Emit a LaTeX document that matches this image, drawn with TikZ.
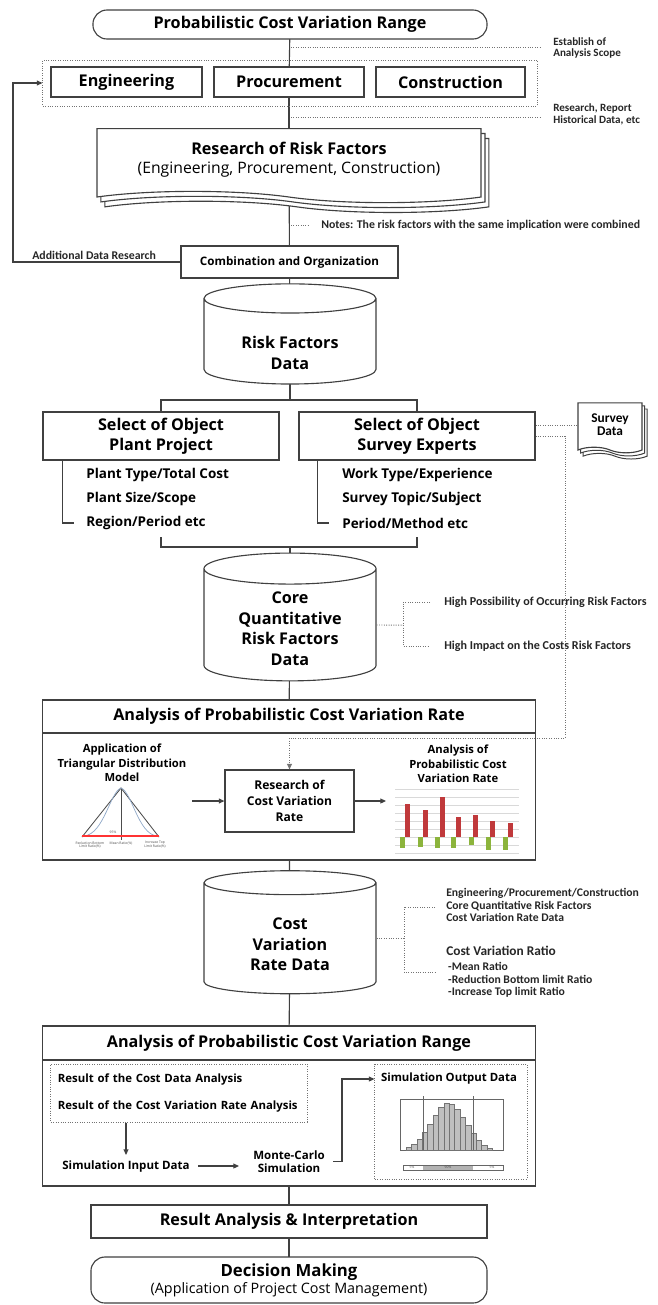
\documentclass[tikz,border=0pt]{standalone}
\usepackage{fontspec}
\setmainfont{Open Sans}
\newfontfamily\notefont{Carlito}
\usetikzlibrary{shapes.geometric}
\usetikzlibrary{shapes.symbols}
\usetikzlibrary{shadows}
\usetikzlibrary{backgrounds}
\usetikzlibrary{calc}
\usetikzlibrary{arrows.meta}
\definecolor{barred}{HTML}{C0393B}
\definecolor{bargreen}{HTML}{8CB43C}
\definecolor{curveblue}{HTML}{8FA8C8}
\tikzset{
    box/.style = {rectangle, draw=black!75, line width=0.8pt, fill=white, inner sep=0pt, align=center, font=\bfseries\fontsize{11.5}{13}\selectfont},
    rbox/.style = {box, rounded corners=10pt},
    dashbox/.style = {rectangle, draw=black!55, densely dotted, line width=0.7pt, inner sep=0pt},
    dbase/.style = {cylinder, shape border rotate=90, draw=black!75, line width=0.8pt, fill=white, aspect=0.3, inner sep=0pt, align=center, font=\bfseries\fontsize{11.5}{14.6}\selectfont},
    docbase/.style = {tape, tape bend top=none, tape bend bottom=out and in, draw=black!75, line width=0.8pt, fill=white, inner sep=0pt, align=center},
    docs/.style = {docbase, tape bend height=8pt,
        copy shadow={shadow xshift=5.6pt, shadow yshift=-7pt, draw=black!75, line width=0.8pt},
        copy shadow={shadow xshift=2.8pt, shadow yshift=-3.5pt, draw=black!75, line width=0.8pt}},
    sdocs/.style = {docbase, tape bend height=4pt,
        copy shadow={shadow xshift=3.6pt, shadow yshift=-4.4pt, draw=black!75, line width=0.7pt},
        copy shadow={shadow xshift=1.8pt, shadow yshift=-2.2pt, draw=black!75, line width=0.7pt}},
    item/.style = {anchor=west, inner sep=0pt, font=\bfseries\fontsize{9.6}{11}\selectfont},
    note/.style = {anchor=west, inner sep=0pt, align=left, text=black!85, font=\notefont\bfseries\fontsize{8.4}{9}\selectfont},
    small/.style = {inner sep=0pt, align=center, font=\bfseries\fontsize{8}{10.3}\selectfont},
    tiny/.style = {inner sep=0pt, align=center, text=black!70, font=\fontsize{2.4}{2.8}\selectfont},
    line/.style = {draw=black!75, line width=0.8pt},
    arrow/.style = {line, -{Triangle[length=4pt,width=3.5pt]}},
    dotline/.style = {draw=black!55, densely dotted, line width=0.7pt},
    dotarrow/.style = {dotline, -{Triangle[length=4pt,width=3.5pt]}},
    gap/.style = {draw=white, line width=2pt},
}

\begin{document}
\begin{tikzpicture}[x=0.025cm, y=-0.025cm]
\useasboundingbox (0,0) rectangle (658,1305);
% scope of the analysis
\node[rbox, minimum width=9.85cm, minimum height=0.725cm] at (290,24.5) (title) {Probabilistic Cost Variation Range};
\node[dashbox, minimum width=12.35cm, minimum height=1.15cm] at (290,83) (scope) {};
\node[box, minimum width=3.775cm, minimum height=0.75cm] at (126.5,82) (eng) {Engineering};
\node[box, minimum width=3.75cm, minimum height=0.75cm] at (289,82) (proc) {Procurement};
\node[box, minimum width=3.725cm, minimum height=0.75cm] at (450.5,82) (cons) {Construction};
\node[note, font=\notefont\bfseries\fontsize{7.9}{8}\selectfont] at (553,48) (est) {Establish of\\Analysis Scope};
\node[note, font=\notefont\bfseries\fontsize{7.9}{9}\selectfont] at (553,114.5) (hist) {Research, Report\\Historical Data, etc};
\coordinate (s1) at (291,47);
\coordinate (s2) at (291,117);
%
\node[docs, minimum width=9.6cm, minimum height=1.85cm, font=\fontsize{11.2}{13.5}\selectfont] at (289,160) (research) {{\bfseries\fontsize{11.5}{13.5}\selectfont Research of Risk Factors}\\(Engineering, Procurement, Construction)};
\node[note] at (321,225) (notes) {Notes: The risk factors with the same implication were combined};
\coordinate (nt) at (291,225);
\node[box, minimum width=5.425cm, minimum height=0.8cm, font=\bfseries\fontsize{8.3}{10}\selectfont] at (289.5,262) (combo) {Combination and Organization};
\node[note] at (32,255) (adddata) {Additional Data Research};
\coordinate (fb) at (13,83);
% risk factor data
\node[dbase, minimum width=4.3cm, minimum height=2.325cm] at (290,341.5) (riskdata) {\rule{0pt}{25pt}Risk Factors\\Data};
\coordinate (rj) at (290,400);
\node[box, minimum width=5.9cm, minimum height=1.2cm, font=\bfseries\fontsize{11.5}{14.2}\selectfont] at (161,436) (plant) {Select of Object\\Plant Project};
\node[box, minimum width=5.9cm, minimum height=1.2cm, font=\bfseries\fontsize{11.5}{14.2}\selectfont] at (417,436) (expert) {Select of Object\\Survey Experts};
\node[item] at (86,475) (p1) {Plant Type/Total Cost};
\node[item] at (86,499) (p2) {Plant Size/Scope};
\node[item] at (86,523) (p3) {Region/Period etc};
\node[item] at (342,475) (e1) {Work Type/Experience};
\node[item] at (342,499) (e2) {Survey Topic/Subject};
\node[item] at (342,523) (e3) {Period/Method etc};
\coordinate (br) at (290,547);
\node[sdocs, minimum width=1.6cm, minimum height=1.25cm, font=\notefont\bfseries\fontsize{9.5}{9.3}\selectfont] at (610,425) (survey) {Survey\\Data};
% core data
\node[dbase, minimum width=4.3cm, minimum height=3.1cm] at (290,625) (core) {\rule{0pt}{13.5pt}Core\\Quantitative\\Risk Factors\\Data};
\draw[gap] ($(core.center)+(0,-49.1)$) ++(38:86 and 12.9) arc[start angle=38, end angle=142, x radius=86, y radius=12.9];
\node[note, font=\notefont\bfseries\fontsize{8.6}{9}\selectfont] at (444,602) (hp) {High Possibility of Occurring Risk Factors};
\node[note, font=\notefont\bfseries\fontsize{8.6}{9}\selectfont] at (444,646) (hi) {High Impact on the Costs Risk Factors};
\coordinate (cj) at (403,625);
% variation rate
\node[box, minimum width=12.3cm, minimum height=0.825cm] at (289,716.5) (ratehd) {Analysis of Probabilistic Cost Variation Rate};
\node[box, minimum width=12.3cm, minimum height=3.175cm] at (289,796.5) (ratebd) {};
\node[small] at (122,763) (tri) {Application of\\Triangular Distribution\\Model};
\node[box, minimum width=3.225cm, minimum height=1.55cm, font=\bfseries\fontsize{8.6}{11.4}\selectfont] at (289.5,801) (rate) {Research of\\Cost Variation\\Rate};
\node[small] at (458,764) (chart) {Analysis of\\Probabilistic Cost\\Variation Rate};
\coordinate (ti) at (192,801);
\coordinate (co) at (386,801);
% triangular model
\draw[black!70, line width=0.6pt] (82,837) -- (121,788) -- (159,837);
\draw[black!70, line width=0.6pt] (121,788) -- (121,840);
\draw[curveblue, line width=0.5pt] (84,836) .. controls (104,834) and (110,792) .. (121,788);
\draw[curveblue, line width=0.5pt] (121,788) .. controls (132,792) and (138,834) .. (157,836);
\draw[red!80, line width=0.8pt] (82,836) -- (159,836);
\node[tiny] at (113,832) (pct) {95\%};
\node[tiny] at (90,845) (tl) {Reduction Bottom\\Limit Ratio(\%)};
\node[tiny] at (121,843.5) (tm) {Mean Ratio(\%)};
\node[tiny] at (155,845) (tr) {Increase Top\\Limit Ratio(\%)};
% rate chart
\foreach \k in {0,...,8}
    \draw[black!15, line width=0.3pt] (395,{789+8*\k}) -- (519,{789+8*\k});
\foreach \x/\t in {407/804, 425/810, 442/797, 458/817, 475/815, 492/821, 510/823}
    \fill[barred] (\x-2.5,837) rectangle (\x+2.5,\t);
\foreach \x/\b in {402/848, 420/847, 437/848, 453/848, 471/845, 488/850, 505/850}
    \fill[bargreen] (\x-2.5,837) rectangle (\x+2.5,\b);
% cost variation rate data
\node[dbase, minimum width=4.3cm, minimum height=3.075cm] at (290,938.5) (costdata) {\rule{0pt}{17pt}Cost\\Variation\\Rate Data};
\draw[gap] ($(costdata.center)+(0,-48.6)$) ++(38:86 and 12.9) arc[start angle=38, end angle=142, x radius=86, y radius=12.9];
\node[note, font=\notefont\bfseries\fontsize{8.3}{8.6}\selectfont] at (446,905) (cd1) {Engineering/Procurement/Construction\\Core Quantitative Risk Factors\\Cost Variation Rate Data};
\node[note, font=\notefont\bfseries\fontsize{8.3}{8.9}\selectfont] at (446,972) (cd2) {{\fontsize{9.5}{10}\selectfont Cost Variation Ratio}\\[1.5pt]\,-Mean Ratio\\\,-Reduction Bottom limit Ratio\\\,-Increase Top limit Ratio};
\coordinate (dj) at (404,938);
% variation range
\node[box, minimum width=12.3cm, minimum height=0.85cm] at (289,1043) (rangehd) {Analysis of Probabilistic Cost Variation Range};
\node[box, minimum width=12.3cm, minimum height=3.15cm] at (289,1123) (rangebd) {};
\node[dashbox, minimum width=6.4cm, minimum height=1.45cm, align=left, text width=6.05cm, font=\bfseries\fontsize{8.1}{19.2}\selectfont] at (179,1093) (input) {Result of the Cost Data Analysis\\Result of the Cost Variation Rate Analysis};
\node[small, font=\bfseries\fontsize{8.2}{9}\selectfont] at (126,1166) (simin) {Simulation Input Data};
\node[small, font=\bfseries\fontsize{8.2}{9.3}\selectfont] at (289,1161.5) (mc) {Monte-Carlo\\Simulation};
\node[dashbox, minimum width=3.8cm, minimum height=2.875cm] at (451,1121.5) (output) {};
\node[small, font=\bfseries\fontsize{8.1}{9}\selectfont] at (449,1079) (outttl) {Simulation Output Data};
% histogram of simulation output
\draw[black!60, line width=0.4pt] (400,1099) rectangle (503,1150);
\foreach \i/\h in {0/3, 1/6, 2/11, 3/18, 4/26, 5/35, 6/43, 7/47, 8/46, 9/41, 10/33, 11/25, 12/17, 13/10, 14/5, 15/2}
    \draw[black!55, fill=black!25, line width=0.3pt] ({406+5.4*\i},1150) rectangle ++(5.4,-\h);
\draw[black!60, line width=0.4pt] (423,1096) -- (423,1150);
\draw[black!60, line width=0.4pt] (473,1096) -- (473,1150);
\fill[black!30] (423,1165) rectangle (473,1170);
\draw[black!60, line width=0.4pt] (403,1165) rectangle (503,1170);
\node[tiny] at (412,1167.5) (lo) {5\%};
\node[tiny] at (448,1167.5) (mid) {90\%};
\node[tiny] at (492,1167.5) (hi5) {5\%};
% result
\node[box, minimum width=9.9cm, minimum height=0.825cm] at (289,1221.5) (result) {Result Analysis \& Interpretation};
\node[rbox, minimum width=9.9cm, minimum height=1.15cm, font=\bfseries\fontsize{11.9}{12}\selectfont] at (289,1280) (decision) {Decision Making\\{\mdseries\fontsize{10.2}{12}\selectfont(Application of Project Cost Management)}};
%
\begin{scope}[on background layer]
\draw[line] (title.center) -- (proc.center);
\draw[line] (proc.center) -- (research.center);
\draw[line] (research.center) -- (combo.center);
\draw[line] (combo.center) -- (riskdata.center);
\draw[line] (riskdata.center) -- (rj) -| (plant.north);
\draw[line] (rj) -| (expert.north);
\draw[line] ($(plant.south west)+(20,0)$) |- ($(p3.west)+(-12,0)$);
\draw[line] ($(plant.south west)+(20,0)$ |- p1.west) -- ++(11,0);
\draw[line] ($(plant.south west)+(20,0)$ |- p2.west) -- ++(11,0);
\draw[line] ($(expert.south west)+(19,0)$) |- ($(e3.west)+(-13,0)$);
\draw[line] ($(expert.south west)+(19,0)$ |- e1.west) -- ++(11,0);
\draw[line] ($(expert.south west)+(19,0)$ |- e2.west) -- ++(11,0);
\draw[line] (plant.south |- 0,537) |- (br) -| (expert.south |- 0,537);
\draw[line] (br) -- (core.center);
\draw[line] (core.center) -- (ratehd.center);
\draw[line] (ratebd.center) -- (costdata.center);
\draw[line] (costdata.center) -- (rangehd.center);
\draw[line] (rangebd.center) -- (result.center);
\draw[line] (result.center) -- (decision.center);
\end{scope}
\draw[arrow] (combo.west) -| (fb) -- (scope.west);
\draw[dotline, shorten >=8pt] (s1) -- (s1 -| est.west);
\draw[dotline, shorten >=8pt] (s2) -- (s2 -| hist.west);
\draw[dotline, shorten >=9pt] (nt) -- (notes.west);
\draw[dotline] (expert.east |- survey.west) -- (survey.west);
\draw[dotarrow] (expert.east) -| (565,738) -| (rate.north);
\draw[dotline] (core.east) -- (cj);
\draw[dotline] ($(hp.west)+(-14,0)$) -| (cj) |- ($(hi.west)+(-14,0)$);
\draw[dotline] (costdata.east |- dj) -- (dj);
\draw[dotline] ($(cd1.west)+(-11,2)$) -| (dj) |- ($(cd2.west)+(-11,0)$);
\draw[arrow] (ti) -- (rate.west);
\draw[arrow] (rate.east) -- (co);
\draw[arrow] (input.south -| simin.north) -- ($(simin.north)+(0,-5)$);
\draw[arrow, shorten <=6pt, shorten >=10pt] (simin.east) -- (simin.east -| mc.west);
\draw[arrow, shorten <=6pt] (mc.east) -- ++(17,0) |- (output.west |- outttl);
\end{tikzpicture}
\end{document}
